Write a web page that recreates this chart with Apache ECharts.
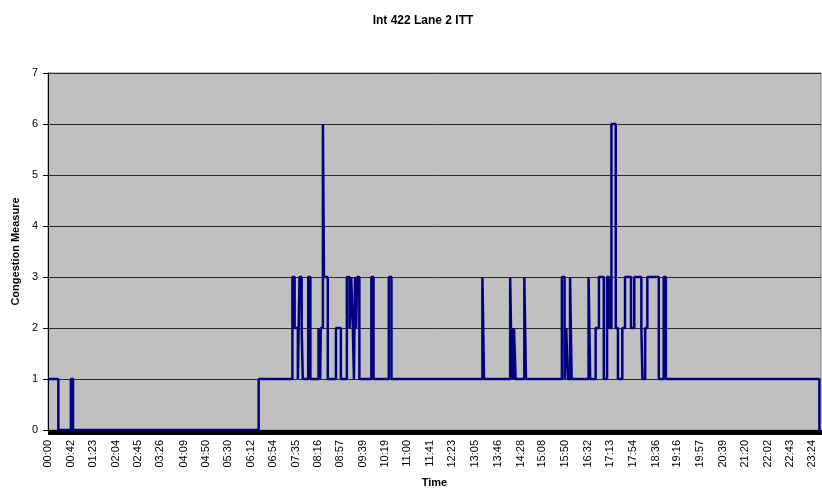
<!DOCTYPE html>
<html>
<head>
<meta charset="utf-8">
<script src="https://cdn.jsdelivr.net/npm/echarts@6/dist/echarts.min.js"></script>
<style>
html,body{margin:0;padding:0;background:#fff;}
#chart{width:822px;height:489px;}
</style>
</head>
<body>
<div id="chart"></div>
<script>
// Tick labels shown on the time axis
var tickLabels = ['00:00','00:42','01:23','02:04','02:45','03:26','04:09','04:50','05:30','06:12','06:54','07:35','08:16','08:57','09:39','10:19','11:00','11:41','12:23','13:05','13:46','14:28','15:08','15:50','16:32','17:13','17:54','18:36','19:16','19:57','20:39','21:20','22:02','22:43','23:24'];

// Times at which the congestion measure changes
var changeTimes = ['00:00','00:19','00:42','00:46','06:27','07:29','07:33','07:39','07:42','07:46','07:48','07:58','08:02','08:17','08:20','08:21','08:25','08:27','08:34','08:49','08:58','09:09','09:14','09:17','09:20','09:22','09:24','09:26','09:28','09:32','09:54','09:58','10:26','10:31','13:18','13:21','14:09','14:12','14:13','14:15','14:16','14:19','14:35','14:38','15:44','15:49','15:52','15:55','15:59','16:02','16:33','16:36','16:46','16:52','17:01','17:07','17:11','17:15','17:23','17:27','17:35','17:40','17:51','17:57','18:10','18:12','18:17','18:21','18:42','18:51','18:55','23:37'];

// Congestion measure from each change time onward
var congestion = [1,0,1,0,1,3,2,1,3,2,1,3,1,2,1,2,6,3,1,2,1,3,2,3,2,1,3,2,3,1,3,1,3,1,3,1,3,1,2,1,2,1,3,1,3,1,2,1,3,1,3,1,2,3,1,3,2,6,2,1,2,3,2,3,2,1,2,3,1,3,1,0];

// Axis categories: every minute of the day covered by the chart
var lastMinute = 23 * 60 + 40;
var categories = [];
for (var m = 0; m <= lastMinute; m++) {
  var h = Math.floor(m / 60), mm = m % 60;
  categories.push((h < 10 ? '0' : '') + h + ':' + (mm < 10 ? '0' : '') + mm);
}
var labelSet = new Set(tickLabels);
var seriesData = changeTimes.map(function (t, i) { return [t, congestion[i]]; });

var chart = echarts.init(document.getElementById('chart'), null, {renderer: 'canvas'});
var font = '"Liberation Sans", Arial, sans-serif';
chart.setOption({
  animation: false,
  backgroundColor: '#ffffff',
  title: {
    text: 'Int 422 Lane 2 ITT',
    left: 418,
    textAlign: 'center',
    top: 10,
    textStyle: {fontFamily: font, fontSize: 12, fontWeight: 'bold', color: '#000'}
  },
  grid: {
    left: 48, right: 1, top: 73, bottom: 59,
    outerBoundsMode: 'none',
    containLabel: false,
    show: true, backgroundColor: '#C0C0C0', borderColor: '#808080', borderWidth: 1
  },
  xAxis: {
    type: 'category',
    data: categories,
    boundaryGap: false,
    name: 'Time',
    nameLocation: 'middle',
    nameGap: 47,
    nameTextStyle: {fontFamily: font, fontSize: 11, fontWeight: 'bold', color: '#000'},
    axisLine: {show: true, lineStyle: {color: '#000', width: 1}},
    axisTick: {show: true, interval: 0, length: 5, lineStyle: {color: '#000', width: 1}},
    axisLabel: {
      interval: function (index, value) { return labelSet.has(value); },
      rotate: 90,
      margin: 10,
      fontFamily: font, fontSize: 11, color: '#000'
    },
    splitLine: {show: false}
  },
  yAxis: {
    type: 'value',
    min: 0, max: 7, interval: 1,
    name: 'Congestion Measure',
    nameLocation: 'middle',
    nameGap: 25,
    nameRotate: 90,
    nameTextStyle: {fontFamily: font, fontSize: 11, fontWeight: 'bold', color: '#000'},
    axisLine: {show: true, lineStyle: {color: '#000', width: 1}},
    axisTick: {show: true, length: 5, lineStyle: {color: '#000'}},
    axisLabel: {margin: 10, fontFamily: font, fontSize: 11, color: '#000'},
    splitLine: {show: true, lineStyle: {color: '#2a2a2a', width: 1}}
  },
  series: [{
    type: 'line',
    step: 'end',
    data: seriesData,
    symbol: 'none',
    lineStyle: {color: '#000080', width: 2.5},
    itemStyle: {color: '#000080'}
  }]
});
</script>
</body>
</html>
